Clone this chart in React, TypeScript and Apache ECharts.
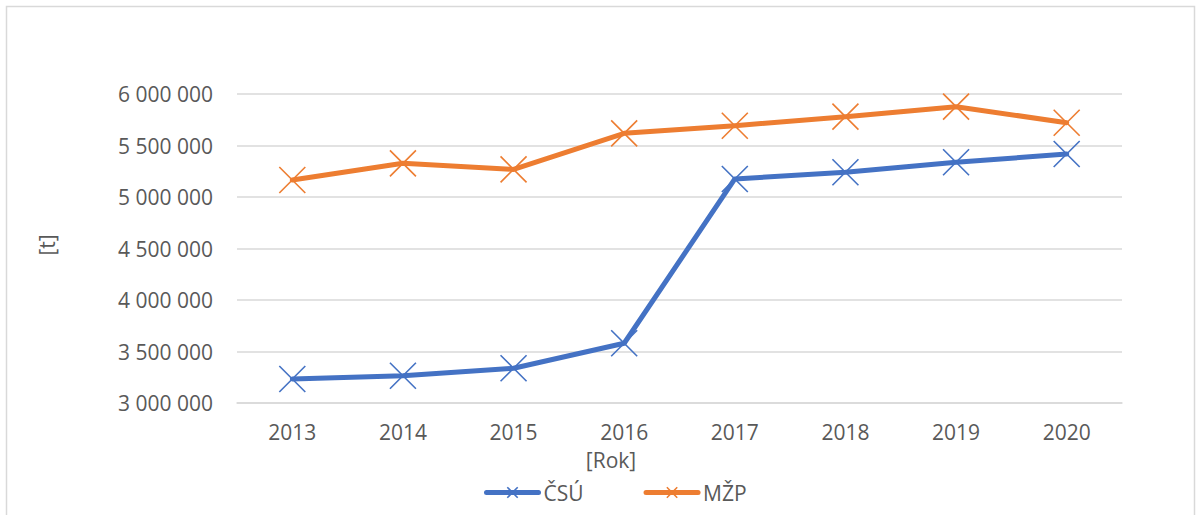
import React, { useEffect, useRef } from "react";
import * as echarts from "echarts";

const years = ["2013", "2014", "2015", "2016", "2017", "2018", "2019", "2020"];
const csu = [3233000, 3265000, 3337000, 3580000, 5175000, 5240000, 5337000, 5417000];
const mzp = [5165000, 5327000, 5268000, 5618000, 5692000, 5780000, 5877000, 5721000];
const seriesNames = ["ČSÚ", "MŽP"];
const xTitle = "[Rok]";
const yTitle = "[t]";

const FONT = "'Open Sans', sans-serif";
const TXT = "#595959";
const XMARK = "path://M0,0L10,10M10,0L0,10";

function fmt(v: number) {
  return String(Math.round(v)).replace(/\B(?=(\d{3})+(?!\d))/g, " ");
}

export default function App() {
  const ref = useRef<HTMLDivElement>(null);
  useEffect(() => {
    if (!ref.current) return;
    const chart = echarts.init(ref.current, undefined, { renderer: "svg" });
    const mk = (name: string, data: number[], color: string) => ({
      name,
      type: "line",
      data,
      symbol: XMARK,
      symbolSize: 26,
      showSymbol: true,
      lineStyle: { color, width: 5, cap: "round", join: "round" },
      itemStyle: { color: "rgba(0,0,0,0)", borderColor: color, borderWidth: 1.6 },
      emphasis: { disabled: true },
    });
    chart.setOption({
      animation: false,
      backgroundColor: "#ffffff",
      textStyle: { fontFamily: FONT },
      grid: { left: 237, right: 74, top: 94, bottom: 112 },
      xAxis: {
        type: "category",
        data: years,
        boundaryGap: true,
        axisLine: { show: true, lineStyle: { color: "#d9d9d9", width: 1.5 } },
        axisTick: { show: false },
        axisLabel: { color: TXT, fontSize: 21, fontFamily: FONT, margin: 18 },
      },
      yAxis: {
        type: "value",
        min: 3000000,
        max: 6000000,
        interval: 500000,
        axisLine: { show: false },
        axisTick: { show: false },
        splitLine: { lineStyle: { color: "#d9d9d9", width: 1.5 } },
        axisLabel: {
          color: TXT,
          fontSize: 21,
          fontFamily: FONT,
          margin: 24,
          formatter: (v: number) => fmt(v),
        },
      },
      legend: {
        data: seriesNames,
        left: 479,
        top: 477,
        itemWidth: 52,
        itemHeight: 13,
        itemGap: 60,
        lineStyle: { width: 5, cap: "round" },
        itemStyle: { borderWidth: 1.6 },
        textStyle: { color: TXT, fontSize: 21, fontFamily: FONT },
      },
      graphic: [
        {
          type: "rect",
          shape: { x: 6.5, y: 6.5, width: 1188, height: 560 },
          style: { fill: "none", stroke: "#d9d9d9", lineWidth: 1.5 },
          silent: true,
        },
        {
          type: "text",
          x: 611,
          y: 460,
          style: {
            text: xTitle,
            fill: TXT,
            font: `21px ${FONT}`,
            align: "center",
            verticalAlign: "middle",
          },
        },
        {
          type: "text",
          x: 47,
          y: 245,
          rotation: Math.PI / 2,
          style: {
            text: yTitle,
            fill: TXT,
            font: `21px ${FONT}`,
            align: "center",
            verticalAlign: "middle",
          },
        },
      ],
      series: [mk(seriesNames[0], csu, "#4472C4"), mk(seriesNames[1], mzp, "#ED7D31")],
    });
    return () => chart.dispose();
  }, []);
  return (
    <div
      ref={ref}
      style={{ position: "fixed", left: 0, top: 0, width: 1196, height: 515, background: "#fff" }}
    />
  );
}
